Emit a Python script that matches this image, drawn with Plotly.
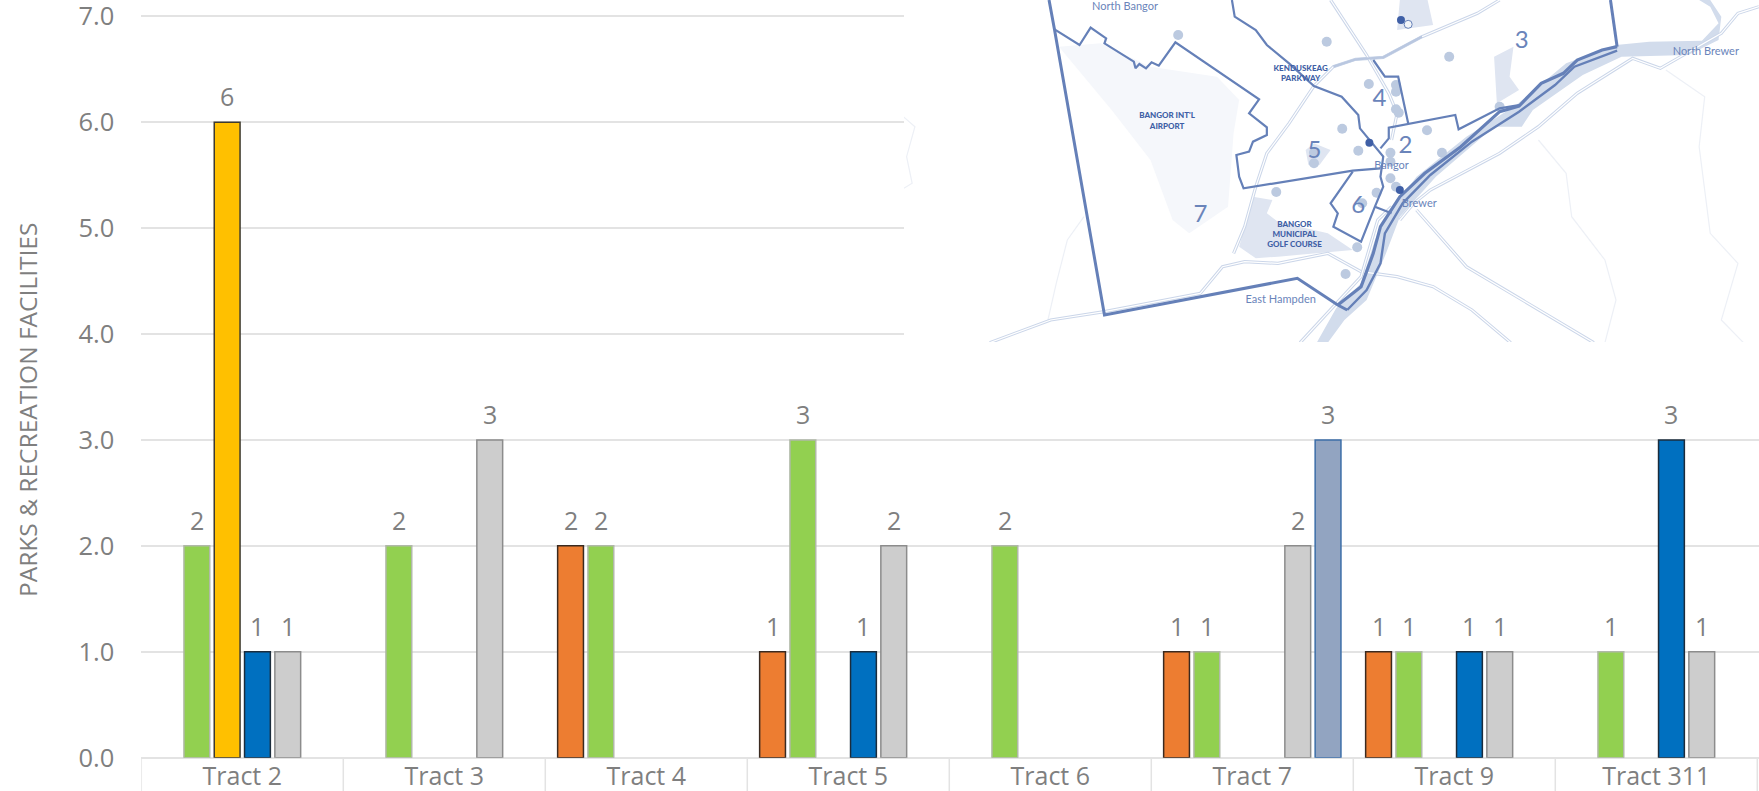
import plotly.graph_objects as go

W, H = 1759, 791

# ---------- chart data ----------
tracts = ["Tract 2", "Tract 3", "Tract 4", "Tract 5", "Tract 6", "Tract 7", "Tract 9", "Tract 311"]
y_ticks = [0, 1, 2, 3, 4, 5, 6, 7]
y_title = "PARKS & RECREATION FACILITIES"

series_orange = [None, None, 2, 1, None, 1, 1, None]
series_green = [2, 2, 2, 3, 2, 1, 1, 1]
series_yellow = [6, None, None, None, None, None, None, None]
series_blue = [1, None, None, 1, None, None, 1, 3]
series_gray = [1, 3, None, 2, None, 2, 1, 1]
series_slate = [None, None, None, None, None, 3, None, None]

# ---------- inset map data (map's own picture coordinates) ----------
map_x_range = [25.3, 1568]
map_y_range = [1026, 0]

border_west_south = [(287, 0), (297, 90), (387, 945), (735, 835), (808, 915), (825, 930)]
border_east = [(1300, 0), (1312, 140)]
river_line_a = [(808, 915), (850, 860), (872, 760), (885, 680), (920, 590), (965, 520), (1030, 440), (1100, 335),
                (1135, 318), (1175, 250), (1215, 220), (1240, 180), (1285, 150), (1312, 140)]
river_line_b = [(825, 930), (860, 870), (885, 790), (893, 700), (925, 610), (975, 525), (1050, 425), (1135, 335),
                (1200, 255), (1235, 200), (1312, 152)]
tract7_north = [(297, 88), (342, 135), (362, 83), (390, 115), (387, 130), (410, 155), (440, 185), (443, 205),
                (450, 192), (462, 205), (472, 187), (485, 197), (515, 127), (666, 298), (648, 340), (680, 382),
                (680, 405), (655, 425), (648, 455), (625, 465), (630, 530), (638, 565), (835, 512), (885, 505)]
creek = [(617, 0), (622, 50), (660, 90), (680, 135), (720, 190), (765, 258), (815, 290), (845, 345), (848, 385),
         (865, 420), (890, 470), (885, 530), (890, 560), (875, 620), (850, 725), (800, 680), (808, 640), (795, 610),
         (835, 515)]
tract6_east = [(875, 620), (905, 640)]
tract2_north = [(885, 445), (900, 415), (900, 383), (1020, 345), (1026, 388), (1100, 325), (1135, 315)]
tract4_east = [(872, 180), (893, 230), (917, 230), (935, 370)]

river_band = [(770, 1028), (805, 925), (850, 850), (875, 720), (900, 640), (950, 530), (1040, 410), (1130, 315),
              (1220, 190), (1310, 135), (1370, 125), (1465, 122), (1495, 70), (1480, 20), (1460, 0), (1480, 0),
              (1500, 50), (1495, 120), (1440, 165), (1320, 170), (1250, 225), (1160, 330), (1140, 380), (1090, 380),
              (985, 530), (920, 650), (895, 760), (860, 900), (820, 960), (790, 1028)]
golf_course = [(655, 590), (690, 600), (680, 640), (700, 665), (790, 700), (835, 750), (700, 770), (660, 775),
               (630, 740)]
park_north = [(920, 0), (970, 0), (980, 75), (915, 90)]
park_tract3 = [(1090, 170), (1125, 140), (1118, 230), (1135, 270), (1105, 300), (1095, 310)]
park_tract5 = [(765, 430), (795, 450), (775, 495), (755, 495), (750, 450)]
airport = [(305, 140), (380, 130), (470, 200), (590, 230), (630, 300), (620, 400), (610, 620), (540, 700),
           (510, 660), (470, 480), (400, 330)]

road_a = [(1100, 0), (1060, 40), (960, 110), (890, 172), (840, 178), (800, 200), (765, 258), (720, 370), (680, 460),
          (660, 560), (640, 680), (620, 760)]
road_b = [(795, 0), (860, 165), (900, 280), (915, 340), (905, 420)]
road_c = [(180, 1028), (290, 960), (387, 935), (560, 880), (600, 800), (640, 785), (700, 790), (790, 760), (850, 815),
          (915, 830), (980, 860), (1050, 930), (1120, 1028)]
road_d = [(920, 660), (945, 610), (975, 570), (1100, 460), (1170, 380), (1240, 280), (1340, 175), (1390, 205),
          (1500, 100), (1530, 40), (1568, 20)]
road_e = [(950, 630), (1040, 800), (1270, 1028)]
road_f = [(740, 1028), (850, 830), (880, 660), (905, 620)]
roads = [road_a, road_b, road_c, road_d, road_e, road_f]

contour_a = [(350, 650), (320, 720), (300, 850), (285, 960)]
contour_b = [(1170, 420), (1220, 520), (1230, 650), (1290, 780), (1310, 900), (1290, 1028)]
contour_c = [(1400, 210), (1470, 290), (1460, 440), (1480, 700), (1530, 790), (1500, 960), (1540, 1028)]
contour_d = [(24, 350), (45, 380), (30, 470), (40, 550), (25, 565)]
contours = [contour_a, contour_b, contour_c, contour_d]

facility_points = [(520, 105), (788, 125), (1009, 170), (864, 252), (913, 275), (913, 328), (918, 338), (816, 386),
                   (969, 391), (845, 452), (903, 458), (996, 458), (765, 458), (765, 490), (903, 485), (903, 535),
                   (913, 560), (878, 578), (697, 576), (852, 610), (843, 742), (822, 822), (1100, 320), (913, 255)]
facility_points_dark = [(922, 60), (865, 428), (920, 570)]
facility_points_hollow = [(935, 73)]

tract_numbers = ["2", "3", "4", "5", "6", "7"]
tract_number_pos = [(930, 440), (1140, 127), (883, 300), (766, 456), (845, 622), (560, 648)]
place_names = ["North Bangor", "East Hampden", "Bangor", "Brewer", "North Brewer"]
place_name_pos = [(424, 23), (705, 900), (905, 500), (955, 613), (1472, 156)]
feature_names = ["KENDUSKEAG<br>PARKWAY", "BANGOR INT'L<br>AIRPORT", "BANGOR<br>MUNICIPAL<br>GOLF COURSE"]
feature_name_pos = [(741, 222), (500, 365), (730, 705)]

# ---------- styles ----------
FONT = "Open Sans"
TXT = "#7f7f7f"
GRID = "#e3e3e3"
MAP_LINE = "#6580b8"
MAP_TXT = "#6a84ba"
MAP_DARK = "#3f5fa6"

fig = go.Figure()

series = [
    ("Orange", series_orange, "#ED7D31", "#3a2a20"),
    ("Green", series_green, "#92D050", "#b0b8a8"),
    ("Yellow", series_yellow, "#FFC000", "#3d3a30"),
    ("Blue", series_blue, "#0070C0", "#1b2c3c"),
    ("Gray", series_gray, "#CDCDCD", "#8c8c8c"),
    ("Slate", series_slate, "#92A4C1", "#3c6ea8"),
]
plot_left, plot_top, plot_bottom = 141.3, 16.3, 757.7
unit_px = (plot_bottom - plot_top) / 7
top_pad_px = 4
cat_w = 202.0
group_w = 0.9 * cat_w / len(series)

annotations = [dict(
    xref="paper", yref="paper", x=27 / W, y=1 - 410 / H, text=y_title, textangle=-90, showarrow=False,
    xanchor="center", yanchor="middle", font=dict(family=FONT, size=24.5, color=TXT),
)]
for i, (name, vals, col, edge) in enumerate(series):
    fig.add_trace(go.Bar(
        x=tracts, y=vals, name=name,
        marker=dict(color=col, line=dict(color=edge, width=1.5)),
        hoverinfo="skip", showlegend=False,
    ))
    for t, v in zip(tracts, vals):
        if v is not None:
            annotations.append(dict(
                x=t, y=v, xref="x", yref="y", text=str(v), showarrow=False,
                xanchor="center", yanchor="middle",
                xshift=(i - (len(series) - 1) / 2) * group_w, yshift=26,
                font=dict(family=FONT, size=25, color=TXT),
            ))


def xy(pts):
    return [p[0] for p in pts], [p[1] for p in pts]


def map_line(pts, color, width, fill=None, fillcolor=None):
    xs, ys = xy(pts)
    fig.add_trace(go.Scatter(
        x=xs, y=ys, xaxis="x2", yaxis="y2", mode="lines",
        line=dict(color=color, width=width), fill=fill, fillcolor=fillcolor,
        hoverinfo="skip", showlegend=False,
    ))


# white map ground hides the chart's gridlines under the map
map_line([(map_x_range[0], 0), (map_x_range[1], 0), (map_x_range[1], map_y_range[0]), (map_x_range[0], map_y_range[0]),
          (map_x_range[0], 0)], "#ffffff", 0, "toself", "#ffffff")

for c in contours:
    map_line(c, "#edf0f6", 1.2)
map_line(airport, "#f5f7fb", 0, "toself", "#f5f7fb")
for poly in (golf_course, park_north, park_tract3, park_tract5):
    map_line(poly, "#dfe5f1", 0, "toself", "#dfe5f1")
map_line(river_band, "#d2dcec", 0, "toself", "#d2dcec")
for r in roads:
    map_line(r, "#cbd6e9", 3.2)
    map_line(r, "#ffffff", 1.2)
map_line(road_a[2:6], "#b9c7e0", 2.4)

fx, fy = xy(facility_points)
fig.add_trace(go.Scatter(x=fx, y=fy, xaxis="x2", yaxis="y2", mode="markers",
                         marker=dict(size=10, color="#bccae0"), hoverinfo="skip", showlegend=False))

for line, w in [(border_west_south, 3), (border_east, 3), (river_line_a, 3.2), (river_line_b, 2.4), (tract7_north, 2.2),
                (creek, 2.2), (tract6_east, 2.2), (tract2_north, 2.2), (tract4_east, 2.2)]:
    map_line(line, MAP_LINE, w)

dx, dy = xy(facility_points_dark)
fig.add_trace(go.Scatter(x=dx, y=dy, xaxis="x2", yaxis="y2", mode="markers",
                         marker=dict(size=8, color=MAP_DARK), hoverinfo="skip", showlegend=False))
hx, hy = xy(facility_points_hollow)
fig.add_trace(go.Scatter(x=hx, y=hy, xaxis="x2", yaxis="y2", mode="markers",
                         marker=dict(size=8, color="rgba(255,255,255,0.6)", line=dict(color=MAP_LINE, width=1)),
                         hoverinfo="skip", showlegend=False))

for texts, pos, size, family, color in [
    (tract_numbers, tract_number_pos, 24, "Lato", MAP_TXT),
    (place_names, place_name_pos, 11, "Lato", MAP_TXT),
    (feature_names, feature_name_pos, 8, "Lato Black, Lato", MAP_DARK),
]:
    tx, ty = xy(pos)
    fig.add_trace(go.Scatter(x=tx, y=ty, xaxis="x2", yaxis="y2", mode="text", text=texts,
                             textposition="middle center",
                             textfont=dict(family=family, size=size, color=color),
                             hoverinfo="skip", showlegend=False))

# ---------- layout: margins are zero, axes placed by domain in the page ----------
x_end = -0.5 + (W - plot_left) / cat_w

dividers = [dict(type="line", xref="x", yref="paper", x0=k - 0.5, x1=k - 0.5,
                 y0=0, y1=(H - plot_bottom) / H, line=dict(color=GRID, width=1.5), layer="below")
            for k in range(len(tracts) + 1)]

fig.update_layout(
    width=W, height=H, autosize=False,
    margin=dict(l=0, r=0, t=0, b=0, pad=0),
    paper_bgcolor="white", plot_bgcolor="white",
    barmode="group", bargap=0.1, bargroupgap=0.148,
    showlegend=False,
    shapes=dividers,
    annotations=annotations,
    xaxis=dict(
        domain=[plot_left / W, 1], range=[-0.5, x_end], type="category",
        categoryorder="array", categoryarray=tracts, automargin=False,
        showgrid=False, zeroline=False, showline=False, anchor="y",
        ticks="", ticklabelstandoff=1, ticklabeloverflow="allow",
        tickfont=dict(family=FONT, size=25, color=TXT),
    ),
    yaxis=dict(
        domain=[(H - plot_bottom) / H, (H - plot_top + top_pad_px) / H],
        range=[0, 7 + top_pad_px / unit_px], anchor="x", automargin=False,
        tickvals=y_ticks, ticktext=[f"{v:.1f}" for v in y_ticks],
        showgrid=True, gridcolor=GRID, gridwidth=1.5,
        zeroline=True, zerolinecolor=GRID, zerolinewidth=1.5, showline=False,
        ticks="", ticklabelstandoff=26, ticklabeloverflow="allow",
        tickfont=dict(family=FONT, size=25.5, color=TXT),
    ),
    xaxis2=dict(domain=[904 / W, 1], range=map_x_range, visible=False, anchor="y2", fixedrange=True, automargin=False),
    yaxis2=dict(domain=[1 - 342 / H, 1], range=map_y_range, visible=False, anchor="x2", fixedrange=True, automargin=False),
)

fig.write_html("out.html", config={"displayModeBar": False},
               post_script="document.body.style.margin='0';document.body.style.overflow='hidden';")
